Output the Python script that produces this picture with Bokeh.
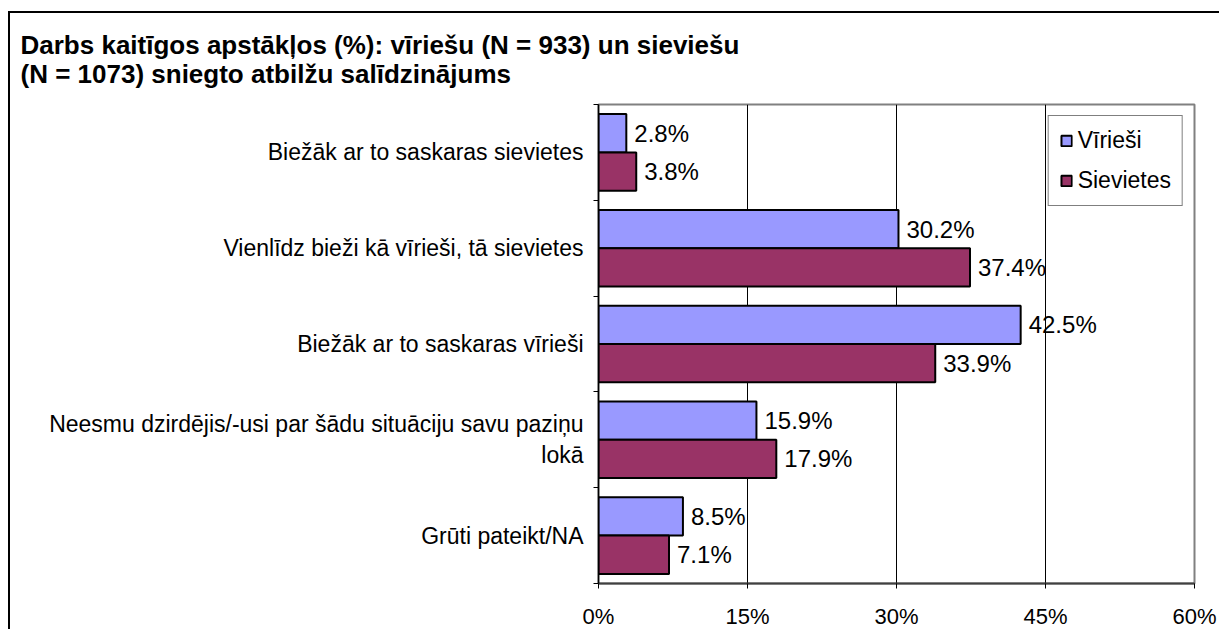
from bokeh.plotting import figure
from bokeh.models import (Range1d, FixedTicker, PrintfTickFormatter, CustomJSTickFormatter,
                          LinearAxis, ColumnDataSource, Title)
from bokeh.core.properties import value
from bokeh.embed import file_html
from bokeh.resources import INLINE

title_lines = ["Darbs kaitīgos apstākļos (%): vīriešu (N = 933) un sieviešu",
               "(N = 1073) sniegto atbilžu salīdzinājums"]
categories = [
    "Biežāk ar to saskaras sievietes",
    "Vienlīdz bieži kā vīrieši, tā sievietes",
    "Biežāk ar to saskaras vīrieši",
    "Neesmu dzirdējis/-usi par šādu situāciju savu paziņu\nlokā",
    "Grūti pateikt/NA",
]
series_names = ["Vīrieši", "Sievietes"]
men = [2.8, 30.2, 42.5, 15.9, 8.5]
women = [3.8, 37.4, 33.9, 17.9, 7.1]
x_ticks = [0, 15, 30, 45, 60]
colors = ["#9999FF", "#993366"]

FONT = "Liberation Sans"
n = len(categories)
bar_h = 0.4

src = ColumnDataSource(dict(
    y_m=[i + 0.5 - bar_h / 2 for i in range(n)],
    y_w=[i + 0.5 + bar_h / 2 for i in range(n)],
    men=men, women=women,
    lab_m=[f"{v}%" for v in men],
    lab_w=[f"{v}%" for v in women],
))

p = figure(width=1211, height=618, output_backend="svg", toolbar_location=None, title=None,
           x_range=Range1d(x_ticks[0], x_ticks[-1]), y_range=Range1d(n, 0),
           min_border_left=588, min_border_right=27, min_border_top=89, min_border_bottom=46,
           background_fill_color="white", border_fill_color="white")
# outer chart border (only its top and left edges fall inside the picture)
p.styles = {"margin-left": "8px", "margin-top": "11px",
            "border-left": "2px solid black", "border-top": "2px solid black"}

xa = p.below[0]
ya = p.left[0]

title = Title(text="\n".join(title_lines), align="left", offset=-578, standoff=30,
              text_font=FONT, text_font_size="26px", text_font_style="bold",
              text_line_height=0.98, text_color="black")
p.add_layout(title, "above")

p.hbar(y="y_m", left=0, right="men", height=bar_h, fill_color=colors[0], line_color="black",
       line_width=2, legend_label=series_names[0], source=src)
p.hbar(y="y_w", left=0, right="women", height=bar_h, fill_color=colors[1], line_color="black",
       line_width=2, legend_label=series_names[1], source=src)

for xcol, ycol, lcol in (("men", "y_m", "lab_m"), ("women", "y_w", "lab_w")):
    p.text(x=xcol, y=ycol, text=lcol, x_offset=8, text_align="left", text_baseline="middle",
           text_font=value(FONT), text_font_size=value("24px"), text_color="black", source=src)

# x axis
xa.ticker = FixedTicker(ticks=x_ticks)
xa.formatter = PrintfTickFormatter(format="%d%%")
xa.axis_line_color = "#404040"
xa.axis_line_width = 2
xa.major_tick_line_color = "black"
xa.major_tick_out = 5
xa.major_tick_in = 0
xa.minor_tick_line_color = None
xa.major_label_standoff = 15
xa.major_label_text_font = FONT
xa.major_label_text_font_size = "22px"
xa.major_label_text_color = "black"

# y axis: ticks at category boundaries
ya.ticker = FixedTicker(ticks=list(range(n + 1)))
ya.formatter = CustomJSTickFormatter(code="return ''")
ya.axis_line_color = "black"
ya.axis_line_width = 1.5
ya.major_tick_line_color = "black"
ya.major_tick_out = 5
ya.major_tick_in = 0
ya.minor_tick_line_color = None
ya.major_label_standoff = 0

# second y axis: category names at band centres
centers = [i + 0.5 for i in range(n)]
cat_axis = LinearAxis(ticker=FixedTicker(ticks=centers),
                      major_label_overrides={c: cat for c, cat in zip(centers, categories)},
                      axis_line_color=None, major_tick_line_color=None,
                      minor_tick_line_color=None, major_tick_out=0, major_tick_in=0,
                      major_label_standoff=10, major_label_text_font=FONT,
                      major_label_text_font_size="23px", major_label_text_color="black",
                      major_label_text_line_height=1.2)
p.add_layout(cat_axis, "left")

for g in p.xgrid:
    g.ticker = xa.ticker
    g.grid_line_color = "black"
    g.grid_line_width = 1
p.ygrid.visible = False
p.outline_line_color = "#808080"
p.outline_line_width = 2

lg = p.legend[0]
lg.location = "top_right"
lg.margin = 11
lg.border_line_color = "black"
lg.border_line_width = 1
lg.padding = 11
lg.spacing = 13
lg.label_height = 26
lg.glyph_width = 13
lg.glyph_height = 13
lg.label_standoff = 5
lg.label_text_font = FONT
lg.label_text_font_size = "23px"
lg.label_text_color = "black"
lg.background_fill_color = "white"

open("out.html", "w").write(file_html(p, INLINE))
